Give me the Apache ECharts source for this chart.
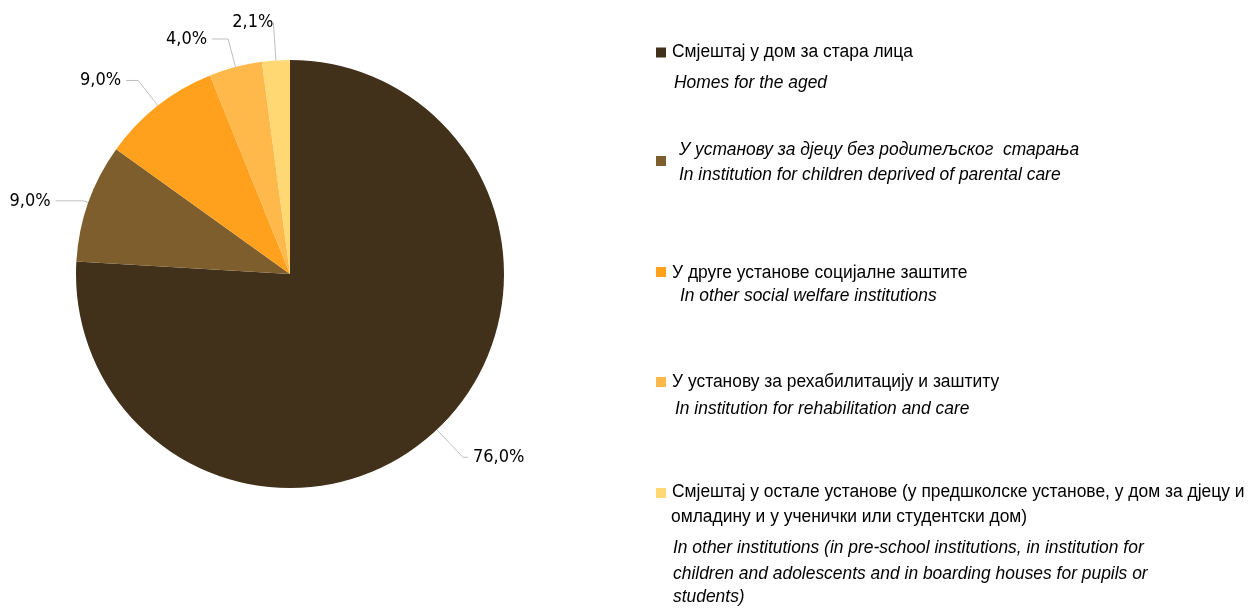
<!DOCTYPE html>
<html>
<head>
<meta charset="utf-8">
<script src="https://cdn.jsdelivr.net/npm/echarts@6/dist/echarts.min.js"></script>
<style>html,body{margin:0;padding:0;background:#fff}#c{width:1251px;height:608px}</style>
</head>
<body>
<div id="c"></div>
<script>
const categories = [
  'Смјештај у дом за стара лица',
  'У установу за дјецу без родитељског  старања',
  'У друге установе социјалне заштите',
  'У установу за рехабилитацију и заштиту',
  'Смјештај у остале установе (у предшколске установе, у дом за дјецу и'
];
const englishNames = [
  'Homes for the aged',
  'In institution for children deprived of parental care',
  'In other social welfare institutions',
  'In institution for rehabilitation and care',
  'In other institutions (in pre-school institutions, in institution for'
];
const extraLines5 = ['омладину и у ученички или студентски дом)'];
const extraEnglish5 = ['children and adolescents and in boarding houses for pupils or', 'students)'];
const values = [76.0, 9.0, 9.0, 4.0, 2.1];
const colors = ['#41311A', '#7F5E2D', '#FFA11D', '#FFB84A', '#FFD873'];

const LEGFONT = '"Liberation Sans",Arial,sans-serif';
const LABFONT = '"DejaVu Sans Condensed","Liberation Sans Narrow",sans-serif';
const FS = 18;
const NARROW = 0.968;
const lineLens = [[38, 5], [5, 28], [32, 12], [29, 16], [38, 0]];

const chart = echarts.init(document.getElementById('c'));
const data = values.map((v, i) => ({
  name: categories[i], value: v,
  itemStyle: { color: colors[i] },
  labelLine: { length: lineLens[i][0], length2: lineLens[i][1] },
  label: i === 4 ? { distanceToLabelLine: 0 } : {}
}));

// legend icons (text drawn as graphic text next to them)
const iconCenters = [52.5, 161, 272, 382, 493];
const legends = categories.map((c, i) => ({
  data: [c], left: 656, top: iconCenters[i] - 5, orient: 'vertical', padding: 0,
  icon: 'rect', itemWidth: 10, itemHeight: 10, itemGap: 0,
  selectedMode: false, formatter: () => '',
  textStyle: { fontSize: 1 }
}));

function txt(x, y, s, italic) {
  return {
    type: 'text', x: x, y: y, scaleX: NARROW, silent: true,
    style: { text: s, x: 0, y: 0, fontFamily: LEGFONT, fontSize: FS, fontStyle: italic ? 'italic' : 'normal',
      fill: '#000', verticalAlign: 'middle', align: 'left' }
  };
}
const graphics = [
  txt(672, 52.5, categories[0], false),
  txt(674, 82.5, englishNames[0], true),
  txt(679, 150, categories[1], true),
  txt(679, 175, englishNames[1], true),
  txt(672, 273, categories[2], false),
  txt(680, 296, englishNames[2], true),
  txt(672, 382.5, categories[3], false),
  txt(675, 409, englishNames[3], true),
  txt(672, 492.5, categories[4], false),
  txt(671, 517.5, extraLines5[0], false),
  txt(673, 548, englishNames[4], true),
  txt(673, 574, extraEnglish5[0], true),
  txt(673, 597, extraEnglish5[1], true)
];

chart.setOption({
  animation: false,
  legend: legends,
  graphic: graphics,
  series: [{
    type: 'pie',
    center: [290, 274],
    radius: 214,
    startAngle: 90,
    clockwise: true,
    avoidLabelOverlap: false,
    data: data,
    itemStyle: { borderWidth: 0 },
    label: {
      show: true, position: 'outside', fontFamily: LABFONT, fontSize: FS, color: '#000',
      formatter: p => p.value.toFixed(1).replace('.', ',') + '%'
    },
    labelLine: { show: true, lineStyle: { color: '#BFBFBF', width: 1 } },
    emphasis: { disabled: true }
  }]
});
</script>
</body>
</html>
